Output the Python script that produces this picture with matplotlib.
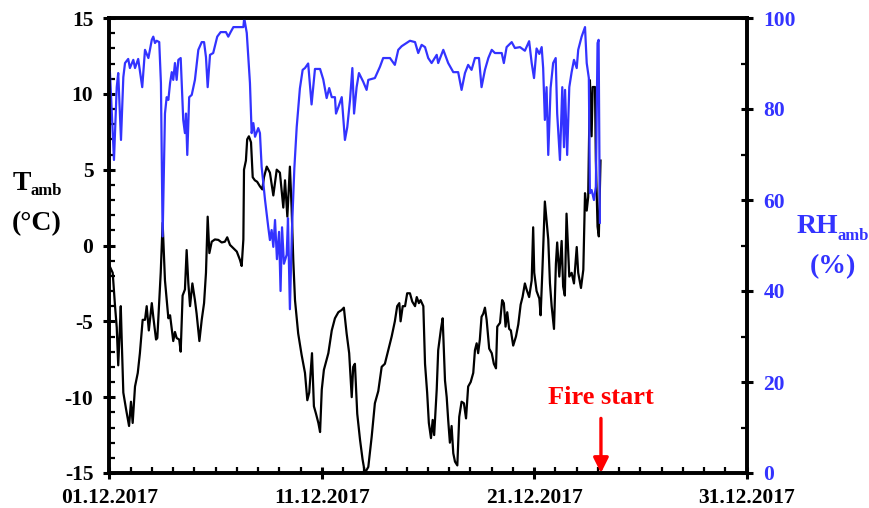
import matplotlib
matplotlib.use("Agg")
import matplotlib.pyplot as plt
import matplotlib.dates as mdates
import numpy as np
import pandas as pd

plt.rcParams["font.family"] = ["Liberation Serif", "DejaVu Serif"]
plt.rcParams["font.weight"] = "bold"
plt.rcParams["axes.unicode_minus"] = False

START = pd.Timestamp("2017-12-01")
END = pd.Timestamp("2017-12-31")
FIRE_DAY = 23.14

# ambient temperature, days after 01.12.2017 and degC
t_days = [
    0.03, 0.16, 0.27, 0.35, 0.42, 0.54, 0.58, 0.66, 0.79, 0.93, 1.02, 1.10, 1.21, 1.34, 1.44,
    1.57, 1.68, 1.76, 1.86, 2.00, 2.07, 2.20, 2.26, 2.35, 2.42, 2.51, 2.62, 2.78, 2.86, 2.94,
    3.01, 3.09, 3.17, 3.29, 3.36, 3.45, 3.56, 3.64, 3.72, 3.80, 3.91, 4.03, 4.11, 4.24, 4.35,
    4.46, 4.55, 4.63, 4.71, 4.82, 4.97, 5.13, 5.29, 5.44, 5.55, 5.68, 5.84, 6.00, 6.15, 6.23,
    6.31, 6.34, 6.43, 6.49, 6.57, 6.67, 6.75, 6.85, 6.96, 7.09, 7.20, 7.28, 7.41, 7.56, 7.72,
    7.88, 8.03, 8.19, 8.27, 8.38, 8.50, 8.58, 8.66, 8.74, 8.89, 9.05, 9.21, 9.32, 9.41, 9.54,
    9.63, 9.73, 9.84, 9.92, 10.00, 10.10, 10.31, 10.47, 10.62, 10.78, 10.94, 11.04, 11.17, 11.29, 11.41,
    11.48, 11.56, 11.67, 11.80, 11.92, 12.03, 12.19, 12.35, 12.50, 12.66, 12.82, 12.97, 13.13, 13.29, 13.44,
    13.55, 13.65, 13.71, 13.81, 13.92, 14.02, 14.15, 14.26, 14.39, 14.47, 14.57, 14.65, 14.78, 14.86, 14.96,
    15.04, 15.14, 15.22, 15.29, 15.41, 15.48, 15.61, 15.69, 15.80, 15.88, 15.95, 16.03, 16.11, 16.19, 16.27,
    16.38, 16.47, 16.58, 16.69, 16.79, 16.89, 17.01, 17.13, 17.21, 17.29, 17.36, 17.44, 17.52, 17.60, 17.68,
    17.76, 17.88, 18.00, 18.10, 18.20, 18.26, 18.39, 18.49, 18.57, 18.65, 18.73, 18.82, 18.90, 19.01, 19.14,
    19.25, 19.36, 19.45, 19.56, 19.64, 19.76, 19.88, 19.95, 20.00, 20.11, 20.24, 20.30, 20.38, 20.50, 20.66,
    20.74, 20.82, 20.93, 21.02, 21.08, 21.18, 21.29, 21.36, 21.44, 21.52, 21.65, 21.76, 21.87, 22.00, 22.07,
    22.20, 22.31, 22.39, 22.47, 22.54, 22.62, 22.70, 22.75, 22.86, 22.90, 22.98, 23.04, 23.12,
]
t_amb = [
    -1.4, -1.8, -4.0, -5.4, -7.9, -4.0, -6.0, -9.7, -10.8, -11.9, -10.3, -11.7, -9.3, -8.4, -7.1,
    -4.9, -4.9, -4.0, -5.6, -3.8, -4.7, -6.2, -6.1, -3.6, -1.8, 1.5, -2.3, -4.8, -4.6, -5.5,
    -6.3, -5.7, -6.1, -6.2, -7.0, -3.3, -2.9, -0.3, -2.5, -4.0, -2.5, -3.6, -4.5, -6.3, -4.9,
    -3.8, -1.8, 1.9, -0.5, 0.25, 0.4, 0.37, 0.2, 0.25, 0.54, 0.04, -0.18, -0.4, -0.95, -1.35,
    0.4, 5.0, 5.6, 7.0, 7.2, 6.8, 4.5, 4.3, 4.2, 3.9, 3.7, 4.5, 5.2, 4.8, 3.3,
    5.0, 4.8, 2.5, 4.3, 1.9, 5.2, 2.5, -1.0, -3.6, -5.8, -7.2, -8.4, -10.2, -9.7, -7.1,
    -10.6, -11.1, -11.7, -12.3, -9.5, -8.2, -7.1, -5.6, -4.8, -4.4, -4.25, -4.1, -5.8, -7.1, -10.0,
    -8.0, -7.8, -11.1, -12.8, -14.1, -15.0, -14.6, -12.6, -10.4, -9.6, -8.0, -7.8, -6.9, -6.0, -5.0,
    -4.0, -3.8, -5.0, -4.0, -4.0, -3.15, -3.15, -3.7, -4.0, -3.4, -3.8, -3.6, -4.0, -7.8, -9.7,
    -11.7, -12.7, -11.5, -12.5, -9.5, -6.9, -5.5, -4.8, -8.9, -10.0, -11.5, -13.0, -11.9, -13.7, -14.25,
    -14.5, -11.3, -10.3, -10.4, -11.4, -9.3, -9.0, -8.4, -6.9, -6.45, -7.1, -6.2, -4.7, -4.5, -4.1,
    -4.9, -6.8, -7.1, -7.8, -8.1, -5.35, -5.1, -3.6, -3.8, -5.35, -4.4, -5.5, -5.6, -6.6, -6.0,
    -5.2, -3.9, -3.4, -2.5, -2.9, -3.4, -2.3, 1.2, -1.8, -3.0, -3.5, -4.6, -1.8, 2.9, 0.4,
    -2.5, -4.0, -5.5, -1.2, 0.2, -2.05, 0.3, -2.7, -3.3, 2.1, -2.05, -1.8, -2.5, -0.1, -1.8,
    -2.8, -1.6, 3.45, 2.3, 3.2, 10.9, 7.2, 10.45, 10.45, 5.6, 1.25, 0.6, 5.6,
]

# ambient relative humidity, days after 01.12.2017 and %
rh_days = [
    0.03, 0.11, 0.22, 0.35, 0.42, 0.55, 0.66, 0.74, 0.89, 0.97, 1.13, 1.21, 1.36, 1.55, 1.68,
    1.84, 2.00, 2.07, 2.15, 2.23, 2.35, 2.43, 2.51, 2.62, 2.70, 2.78, 2.86, 2.94, 3.01, 3.09,
    3.17, 3.25, 3.36, 3.48, 3.56, 3.61, 3.67, 3.76, 3.88, 4.03, 4.19, 4.35, 4.46, 4.55, 4.63,
    4.74, 4.89, 5.08, 5.24, 5.49, 5.60, 5.71, 5.84, 6.31, 6.35, 6.47, 6.62, 6.70, 6.78, 6.86,
    7.01, 7.09, 7.17, 7.33, 7.48, 7.56, 7.64, 7.72, 7.80, 7.89, 7.99, 8.06, 8.13, 8.22, 8.35,
    8.41, 8.50, 8.60, 8.71, 8.82, 8.97, 9.10, 9.21, 9.36, 9.52, 9.68, 9.92, 10.07, 10.23, 10.35,
    10.47, 10.62, 10.67, 10.78, 10.94, 11.09, 11.20, 11.33, 11.44, 11.52, 11.64, 11.75, 11.95, 12.11, 12.19,
    12.50, 12.74, 12.89, 13.21, 13.44, 13.60, 13.76, 14.15, 14.39, 14.54, 14.70, 14.86, 15.01, 15.17, 15.41,
    15.48, 15.72, 15.95, 16.19, 16.42, 16.58, 16.74, 16.89, 17.05, 17.21, 17.40, 17.52, 17.68, 17.84, 18.00,
    18.15, 18.47, 18.57, 18.70, 18.94, 19.09, 19.33, 19.56, 19.76, 19.88, 19.99, 20.11, 20.24, 20.35, 20.42,
    20.50, 20.58, 20.66, 20.77, 20.89, 21.01, 21.08, 21.21, 21.32, 21.40, 21.45, 21.55, 21.65, 21.76, 21.87,
    22.00, 22.07, 22.23, 22.39, 22.47, 22.57, 22.62, 22.70, 22.81, 22.90, 22.98, 23.03, 23.09,
]
rh_amb = [
    88.1, 79.8, 68.8, 84.8, 87.9, 73.2, 87.0, 90.1, 91.0, 89.0, 90.8, 89.0, 91.0, 84.8, 93.0,
    91.2, 95.2, 95.9, 94.5, 95.0, 94.7, 85.7, 52.0, 79.0, 82.6, 82.0, 85.7, 88.1, 86.4, 90.1,
    86.4, 90.8, 91.2, 77.6, 74.7, 79.0, 69.9, 82.6, 83.1, 86.4, 93.0, 94.7, 94.7, 91.4, 84.8,
    91.9, 92.3, 95.9, 96.9, 96.9, 95.9, 96.9, 98.0, 98.0, 100.0, 96.7, 85.7, 74.7, 76.9, 73.9,
    75.8, 74.7, 67.3, 60.0, 54.1, 51.2, 53.4, 49.7, 55.6, 47.0, 53.0, 40.0, 54.0, 46.0, 48.0,
    56.0, 36.0, 54.0, 67.0, 76.0, 84.5, 88.6, 89.0, 90.0, 81.0, 88.8, 88.8, 86.5, 82.4, 84.6,
    82.6, 82.6, 79.0, 80.4, 82.6, 73.2, 76.0, 82.0, 89.0, 79.0, 84.8, 87.9, 86.0, 84.2, 86.4,
    86.8, 89.3, 91.2, 91.2, 89.7, 93.0, 93.8, 95.0, 94.7, 92.3, 94.1, 93.6, 91.2, 90.1, 91.9,
    90.1, 93.0, 90.1, 88.1, 88.1, 84.2, 87.9, 89.7, 88.6, 91.2, 91.2, 84.8, 88.6, 91.2, 93.0,
    92.3, 92.3, 90.1, 93.6, 94.7, 93.4, 93.6, 92.8, 94.9, 90.1, 86.8, 93.3, 92.1, 93.6, 89.0,
    77.6, 84.8, 69.9, 84.6, 90.1, 91.2, 79.0, 68.8, 84.8, 71.6, 84.2, 69.9, 84.8, 88.1, 90.8,
    89.0, 93.0, 95.9, 98.0, 90.1, 86.8, 61.5, 62.2, 60.0, 62.9, 94.5, 95.2, 55.0,
]

BLUE = "#3333ff"
RED = "#ff0000"


def to_dates(days):
    return START + pd.to_timedelta(np.asarray(days), unit="D")


fig = plt.figure(figsize=(8.7, 5.08), dpi=100)
ax = fig.add_axes([109.3 / 870, 1 - 473 / 508, (746.7 - 109.3) / 870, (473 - 18) / 508])
ax2 = ax.twinx()

ax.plot(to_dates(t_days), t_amb, color="black", linewidth=1.6)
ax2.plot(to_dates(rh_days), rh_amb, color=BLUE, linewidth=1.6)

ax.set_xlim(START, END)
ax.set_ylim(-15, 15)
ax2.set_ylim(0, 100)

ax.xaxis.set_major_locator(mdates.DayLocator(bymonthday=[1, 11, 21, 31]))
ax.xaxis.set_minor_locator(mdates.DayLocator())
ax.xaxis.set_major_formatter(mdates.DateFormatter("%d.%m.%Y"))
ax.set_yticks(np.arange(-15, 16, 5))
ax.set_yticks(np.arange(-15, 16, 1), minor=True)
ax2.set_yticks(np.arange(0, 101, 20))
ax2.set_yticks(np.arange(0, 101, 10), minor=True)

for a in (ax, ax2):
    for s in a.spines.values():
        s.set_linewidth(2.6)
ax.tick_params(which="major", direction="inout", length=9, width=2.2, labelsize=15.5, pad=7)
ax.tick_params(which="minor", direction="in", length=4, width=1.6)
ax.tick_params(axis="x", which="major", pad=6.5)
ax2.tick_params(which="major", direction="inout", length=9, width=2.2, labelsize=15.5,
                labelcolor=BLUE, pad=7.5)
ax2.tick_params(which="minor", direction="in", length=4, width=1.6)
for lbl in ax.get_xticklabels() + ax.get_yticklabels() + ax2.get_yticklabels():
    lbl.set_fontweight("bold")

# axis titles with subscripts
fig.text(13 / 870, 1 - 190 / 508, "T", fontsize=20, fontweight="bold", va="baseline")
fig.text(31 / 870, 1 - 195 / 508, "amb", fontsize=12, fontweight="bold", va="baseline")
fig.text(37 / 870, 1 - 224 / 508, "(°C)", fontsize=20, fontweight="bold", ha="center", va="center")
fig.text(797 / 870, 1 - 233 / 508, "RH", fontsize=20, fontweight="bold", va="baseline", color=BLUE)
fig.text(838 / 870, 1 - 240 / 508, "amb", fontsize=12, fontweight="bold", va="baseline", color=BLUE)
fig.text(833 / 870, 1 - 267 / 508, "(%)", fontsize=20, fontweight="bold", ha="center", va="center",
         color=BLUE)

fire_x = START + pd.Timedelta(days=FIRE_DAY)
ax.text(fire_x, -10.0, "Fire start", color=RED, fontsize=19, fontweight="bold", ha="center",
        va="center")
ax.annotate("", xy=(fire_x, -15), xytext=(fire_x, -11.4),
            arrowprops=dict(arrowstyle="-|>,head_width=0.45,head_length=0.9", color=RED, lw=2.4,
                            shrinkA=0, shrinkB=0))

fig.savefig("out.png", dpi=100)
